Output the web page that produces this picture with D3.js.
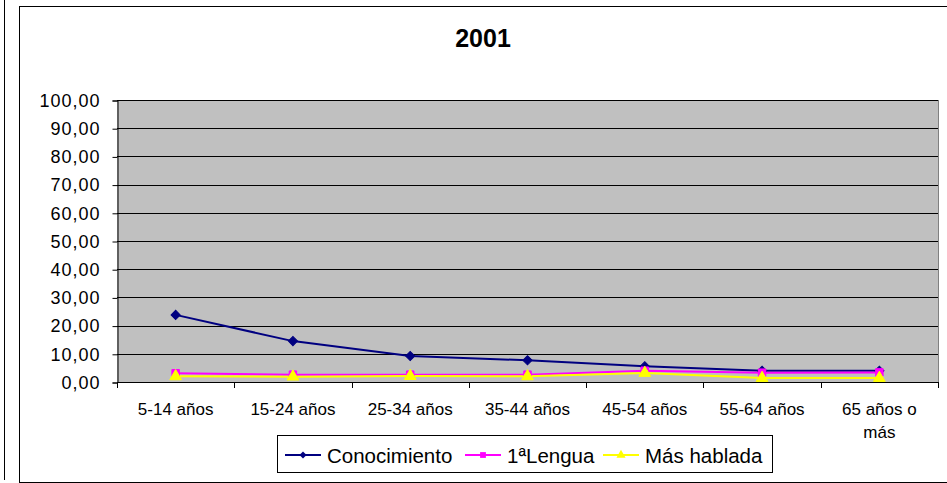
<!DOCTYPE html>
<html>
<head>
<meta charset="utf-8">
<script src="https://cdn.jsdelivr.net/npm/d3@7"></script>
<style>
  body { margin:0; background:#fff; }
  svg { font-family: "Liberation Sans", Arial, sans-serif; display:block; }
</style>
</head>
<body>
<div id="chart"></div>
<script>
var categories = ["5-14 años","15-24 años","25-34 años","35-44 años","45-54 años","55-64 años","65 años o más"];
var conocimiento = [23.8, 14.5, 9.2, 7.7, 5.6, 4.0, 4.0];
var lengua = [3.1, 2.6, 2.6, 2.6, 4.0, 3.3, 3.4];
var masHablada = [2.0, 1.9, 2.1, 2.0, 3.2, 1.4, 1.4];
var yTicks = [0,10,20,30,40,50,60,70,80,90,100];
var seriesNames = ["Conocimiento", "1ªLengua", "Más hablada"];
var title = "2001";

// diamond = square turned 45 degrees
var series = [
  {name: seriesNames[0], values: conocimiento, color:"#000080", symbol: d3.symbolSquare, rot: 45, size: 42},
  {name: seriesNames[1], values: lengua, color:"#FF00FF", symbol: d3.symbolSquare, rot: 0, size: 56},
  {name: seriesNames[2], values: masHablada, color:"#FFFF00", symbol: d3.symbolTriangle, rot: 0, size: 60}
];

var W = 947, H = 483;
var plot = {left:117, right:938, top:100, bottom:382};

var svg = d3.select("#chart").append("svg")
  .attr("width", W).attr("height", H);

// outer frames
svg.append("line")
  .attr("x1", 4.5).attr("x2", 4.5).attr("y1", 0).attr("y2", 480)
  .attr("stroke", "#000");
svg.append("rect")
  .attr("x", 19.5).attr("y", 6.5).attr("width", 940).attr("height", 476)
  .attr("fill", "#fff").attr("stroke", "#000");

svg.append("text")
  .attr("x", 483).attr("y", 47)
  .attr("text-anchor", "middle")
  .attr("font-size", 25).attr("font-weight", "bold")
  .text(title);

var x = d3.scaleBand().domain(categories).range([plot.left, plot.right]).padding(0);
var y = d3.scaleLinear().domain([0,100]).range([plot.bottom, plot.top]);

svg.append("rect")
  .attr("x", plot.left).attr("y", plot.top)
  .attr("width", plot.right-plot.left).attr("height", plot.bottom-plot.top)
  .attr("fill", "#C0C0C0");

// grid
svg.append("g").selectAll("line")
  .data(yTicks.slice(1))
  .enter().append("line")
  .attr("x1", plot.left).attr("x2", plot.right)
  .attr("y1", function(d){return Math.round(y(d))+0.5})
  .attr("y2", function(d){return Math.round(y(d))+0.5})
  .attr("stroke", "#000");

// right border of plot
svg.append("line")
  .attr("x1", plot.right+0.5).attr("x2", plot.right+0.5)
  .attr("y1", plot.top).attr("y2", plot.bottom)
  .attr("stroke", "#808080");

// y axis
var yAxis = d3.axisLeft(y).tickValues(yTicks).tickSize(5).tickPadding(12)
  .tickFormat(function(d){return d3.format(".2f")(d).replace(".", ",")});
var gy = svg.append("g")
  .attr("transform", "translate(" + (plot.left+0.5) + ",0.5)")
  .call(yAxis);
gy.selectAll("text")
  .attr("font-size", 18).attr("letter-spacing", 1).attr("fill", "#000")
  .attr("font-family", "'Liberation Sans', Arial, sans-serif");
gy.select(".domain").attr("stroke", "#000");

// x axis : ticks at band boundaries
var bounds = categories.map(function(c){return x(c)}).concat([plot.right]);
var gx = svg.append("g");
gx.append("line")
  .attr("x1", plot.left).attr("x2", plot.right+1)
  .attr("y1", plot.bottom+0.5).attr("y2", plot.bottom+0.5)
  .attr("stroke", "#000");
gx.selectAll(".tk").data(bounds).enter().append("line")
  .attr("x1", function(d){return Math.round(d)+0.5})
  .attr("x2", function(d){return Math.round(d)+0.5})
  .attr("y1", plot.bottom).attr("y2", plot.bottom+6)
  .attr("stroke", "#000");

var labels = gx.selectAll(".lbl").data(categories).enter().append("text")
  .attr("text-anchor", "middle")
  .attr("font-size", 17)
  .attr("y", 415);

labels.each(function(d){
  var el = d3.select(this);
  var cx = x(d) + x.bandwidth()/2;
  var words = d.split(" "), line = [], lines = [];
  var probe = el.append("tspan");
  words.forEach(function(w){
    line.push(w);
    probe.text(line.join(" "));
    if (probe.node().getComputedTextLength() > 100 && line.length > 1) {
      line.pop();
      lines.push(line.join(" "));
      line = [w];
    }
  });
  lines.push(line.join(" "));
  probe.remove();
  lines.forEach(function(t, i){
    el.append("tspan").attr("x", cx).attr("dy", i==0 ? 0 : 23).text(t);
  });
});

// series
var line = d3.line()
  .x(function(d,i){return x(categories[i]) + x.bandwidth()/2})
  .y(function(d){return y(d)});

series.forEach(function(s){
  svg.append("path")
    .datum(s.values)
    .attr("d", line)
    .attr("fill", "none")
    .attr("stroke", s.color)
    .attr("stroke-width", 2);
});
series.forEach(function(s){
  svg.append("g").selectAll("path")
    .data(s.values).enter().append("path")
    .attr("d", d3.symbol().type(s.symbol).size(s.size))
    .attr("transform", function(d,i){
      return "translate(" + (x(categories[i]) + x.bandwidth()/2) + "," + y(d) + ") rotate(" + s.rot + ")";
    })
    .attr("fill", s.color)
    .attr("stroke", s.color);
});

// legend
var legend = svg.append("g");
legend.append("rect")
  .attr("x", 277.5).attr("y", 435.5).attr("width", 495).attr("height", 37)
  .attr("fill", "#fff").attr("stroke", "#000");

var legX = [285, 465, 603];
series.forEach(function(s, i){
  var g = legend.append("g").attr("transform", "translate(" + legX[i] + ",455)");
  g.append("line").attr("x1", 0).attr("x2", 36).attr("y1", 0).attr("y2", 0)
    .attr("stroke", s.color).attr("stroke-width", 2);
  g.append("path")
    .attr("d", d3.symbol().type(s.symbol).size(s.size*0.6))
    .attr("transform", "translate(18,0) rotate(" + s.rot + ")")
    .attr("fill", s.color);
  g.append("text")
    .attr("x", 42).attr("y", 8)
    .attr("font-size", 20.5)
    .text(s.name);
});
</script>
</body>
</html>
